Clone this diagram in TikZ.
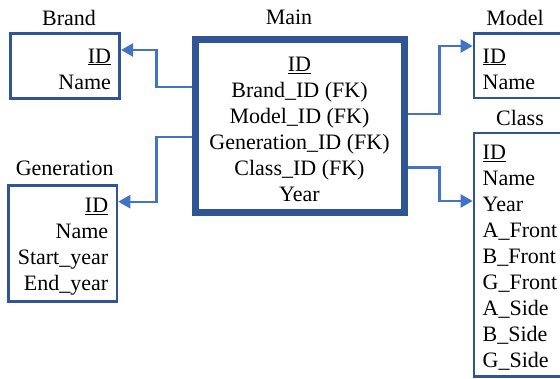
\documentclass[tikz,border=0pt]{standalone}
\usepackage{fontspec}
\setmainfont{Liberation Serif}
\newfontfamily\tblfont{Liberation Serif}
\usepackage{tikz}
\usetikzlibrary{arrows.meta}

\definecolor{boxblue}{RGB}{47,85,151}
\definecolor{linkblue}{RGB}{68,114,196}
\newcommand\toprow{\rule{0pt}{21pt}}

\tikzset{
  tbl/.style={draw=boxblue,line width=2.7pt,inner xsep=8.7pt,inner ysep=0pt,font=\tblfont\fontsize{22}{26}\selectfont},
  ttl/.style={inner sep=0pt,font=\tblfont\fontsize{22}{26}\selectfont},
  link/.style={draw=linkblue,line width=2.3pt,-{Triangle[length=12pt,width=13pt]}},
}

\begin{document}
\begin{tikzpicture}[x=1pt,y=-1pt]
			\useasboundingbox (0,0) rectangle (560,379);
			\clip (0,0) rectangle (560,379);
			% tables
			\node[tbl,text width=92pt,align=right,minimum height=65pt] (brand) at (65,65.8) {\toprow\underline{ID}\\Name};
			\node[tbl,text width=91pt,align=right,minimum height=116pt] (generation) at (62.7,243.5) {\toprow\underline{ID}\\Name\\Start\_year\\End\_year};
			\node[tbl,line width=7pt,align=center,minimum width=209pt,minimum height=173pt] (main) at (299.5,126) {\toprow\underline{ID}\\Brand\_ID (FK)\\Model\_ID (FK)\\Generation\_ID (FK)\\Class\_ID (FK)\\Year};
			\node[tbl,text width=80.6pt,align=left,minimum height=64.5pt] (model) at (523,65.75) {\toprow\underline{ID}\\Name};
			\node[tbl,text width=80.6pt,align=left,minimum height=243.7pt] (class) at (523,254.85) {\toprow\underline{ID}\\Name\\Year\\A\_Front\\B\_Front\\G\_Front\\A\_Side\\B\_Side\\G\_Side};
			% titles
			\node[ttl] (brandttl) at (69,17.5) {Brand};
			\node[ttl] (mainttl) at (289,17.5) {Main};
			\node[ttl] (modelttl) at (515,17.5) {Model};
			\node[ttl] (classttl) at (520,117.5) {Class};
			\node[ttl] (generationttl) at (64.7,168.5) {Generation};
			% links
			\draw[link] ([yshift=39.3pt]main.west) -- ++(-35,0) |- ([yshift=15.8pt]brand.east);
			\draw[link] ([yshift=-11.3pt]main.west) -- ++(-35,0) |- ([yshift=41.8pt]generation.east);
			\draw[link] ([yshift=12pt]main.east) -- ++(32,0) |- ([yshift=19.75pt]model.west);
			\draw[link] ([yshift=-41.5pt]main.east) -- ++(32,0) |- ([yshift=53.85pt]class.west);
		\end{tikzpicture}
\end{document}
